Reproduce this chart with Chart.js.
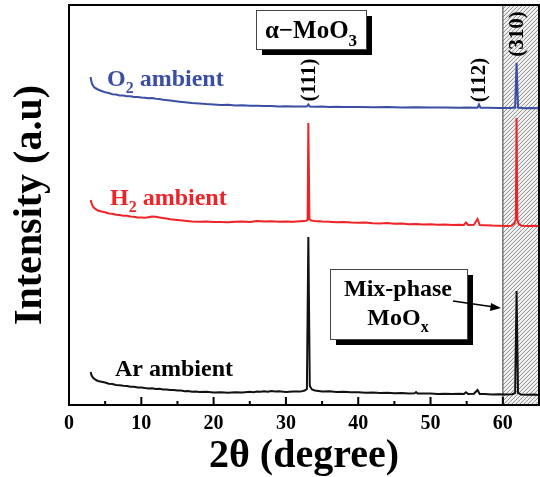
<!DOCTYPE html>
<html>
<head>
<meta charset="utf-8">
<script src="https://cdn.jsdelivr.net/npm/chart.js@4.4.0/dist/chart.umd.min.js"></script>
<style>
    html, body { margin: 0; padding: 0; background: #ffffff; }
    #wrap { width: 540px; height: 477px; }
</style>
</head>
<body>
<div id="wrap"><canvas id="xrd-chart" width="540" height="477"></canvas></div>
<script>
// 2-theta positions and offset intensities
const arTheta  = [3.0, 3.1, 3.3, 3.6, 4.0, 4.5, 5.0, 5.5, 6.0, 6.5, 7.0, 7.5, 8.0, 8.5, 9.0, 9.5, 10.0, 10.5, 11.0, 11.5, 12.0, 12.5, 13.0, 13.5, 14.0, 14.5, 15.0, 15.5, 16.0, 16.5, 17.0, 17.5, 18.0, 19.0, 20.0, 21.0, 22.0, 23.0, 24.0, 25.0, 25.5, 26.0, 26.5, 27.0, 27.5, 28.0, 28.5, 29.0, 30.0, 31.0, 32.0, 32.6, 32.9, 33.1, 33.3, 33.6, 34.0, 34.5, 35.0, 36.0, 37.0, 38.0, 39.0, 40.0, 41.0, 42.0, 43.0, 44.0, 45.0, 46.0, 47.0, 47.8, 48.0, 48.2, 49.0, 50.0, 51.0, 52.0, 53.0, 54.0, 54.6, 54.9, 55.2, 56.0, 56.5, 56.8, 57.5, 58.5, 59.5, 60.5, 61.3, 61.7, 61.9, 62.1, 62.5, 63.5, 64.3, 65.0];
const arCounts = [33, 30, 27.5, 25.5, 24, 23.2, 22.5, 21.3, 21, 20, 19.8, 19.3, 19, 18.2, 18.3, 17.6, 17.5, 17, 16.6, 16.8, 16, 16.2, 15.4, 15.5, 15, 14.9, 14.4, 14.6, 13.8, 13.9, 13.3, 13.5, 13, 13.2, 12.6, 12.8, 12.3, 12.7, 12.5, 13.2, 12.8, 13.6, 13.2, 13.8, 13.3, 13.9, 13.4, 13.7, 13.1, 13.6, 13.4, 14.5, 16, 168, 19, 15.5, 14.5, 14, 13.5, 13.7, 13.1, 13.2, 12.7, 12.8, 12.3, 12.5, 12, 12.2, 11.7, 11.9, 11.5, 11.8, 13, 11.6, 11.4, 11.6, 11.1, 11.3, 11, 11.2, 11, 12.8, 11, 11.2, 15, 11, 10.9, 10.6, 10.7, 10.5, 10.8, 12, 114, 12, 10.5, 10.2, 10.4, 10];

const h2Theta  = [3.0, 3.1, 3.3, 3.6, 4.0, 4.5, 5.0, 5.5, 6.0, 6.5, 7.0, 7.5, 8.0, 8.5, 9.0, 9.5, 10.0, 10.5, 11.0, 11.5, 12.0, 12.5, 13.0, 13.5, 14.0, 15.0, 16.0, 17.0, 18.0, 19.0, 20.0, 21.0, 22.0, 23.0, 24.0, 25.0, 26.0, 27.0, 28.0, 29.0, 30.0, 31.0, 32.0, 32.8, 33.0, 33.1, 33.25, 33.5, 34.0, 35.0, 36.0, 37.0, 38.0, 39.0, 40.0, 41.0, 42.0, 43.0, 44.0, 45.0, 46.0, 47.0, 48.0, 49.0, 50.0, 51.0, 52.0, 53.0, 54.0, 54.6, 54.9, 55.2, 56.0, 56.5, 56.8, 57.5, 58.5, 59.5, 60.5, 61.2, 61.6, 61.8, 61.9, 62.0, 62.2, 62.6, 63.5, 64.3, 65.0];
const h2Counts = [205, 202, 198.5, 196.3, 194.5, 193.5, 192.8, 191.5, 191.2, 190.2, 190, 189.2, 189.3, 188.5, 188.2, 187.6, 187.5, 187.2, 187.8, 188.4, 188.2, 187.6, 187, 186.5, 185.8, 185, 184.2, 183.5, 183.2, 183.4, 182.9, 183.1, 182.8, 183.2, 183.4, 183.1, 184, 183.4, 183.8, 183.3, 183.6, 183.3, 183.8, 184.3, 185, 282, 186, 184.5, 184, 183.4, 183.2, 182.7, 183, 182.5, 182.3, 182.5, 181.8, 181.6, 181.9, 181.2, 181.4, 180.8, 181, 180.5, 180.7, 180.2, 180.4, 180, 180.3, 180, 182.5, 180, 180.2, 186, 180, 179.8, 179.4, 179.2, 179, 179.3, 181.5, 186, 287, 186, 181, 179.3, 179, 179.2, 179];

const o2Theta  = [3.0, 3.05, 3.2, 3.5, 4.0, 4.5, 5.0, 5.5, 6.0, 6.5, 7.0, 7.5, 8.0, 8.5, 9.0, 9.5, 10.0, 10.5, 11.0, 11.5, 12.0, 12.5, 13.0, 14.0, 15.0, 16.0, 17.0, 18.0, 19.0, 20.0, 21.0, 22.0, 23.0, 24.0, 25.0, 26.0, 27.0, 28.0, 29.0, 30.0, 31.0, 32.0, 32.9, 33.1, 33.3, 34.0, 35.0, 36.0, 37.0, 38.0, 40.0, 42.0, 44.0, 46.0, 48.0, 50.0, 52.0, 54.0, 55.0, 56.5, 56.7, 56.9, 58.0, 59.5, 61.0, 61.7, 61.9, 62.1, 63.0, 64.0, 65.0];
const o2Counts = [328, 325, 321, 317.5, 315.5, 314, 312.8, 312, 310.8, 310.5, 309.6, 309.5, 308.8, 308.7, 308, 308.1, 307.4, 307.2, 306.8, 306.9, 306.2, 306, 305.2, 304.5, 303.6, 302.8, 301.9, 301.4, 300.9, 300.6, 300.1, 300.2, 299.6, 299.7, 299.2, 299.3, 298.9, 299.1, 298.6, 298.8, 298.4, 298.6, 298.5, 300.5, 298.5, 298.2, 298.4, 298, 298.2, 297.9, 298.1, 297.7, 297.9, 297.5, 297.7, 297.4, 297.6, 297.3, 297.5, 297.3, 300.5, 297.3, 297.2, 297, 297.1, 297.5, 342.3, 297.5, 296.8, 297, 296.7];

const xTickValues = [0, 10, 20, 30, 40, 50, 60];

const serif = "'Liberation Serif', 'Times New Roman', serif";
const blue = "#3a4ea3";
const red = "#ee2328";

function toPoints(xs, ys) {
    return xs.map((x, i) => ({ x: x, y: ys[i] }));
}

// draws text with subscript pieces, left aligned at x
function drawRich(ctx, parts, x, y, size) {
    let cx = x;
    parts.forEach(p => {
        if (p.sub) {
            ctx.font = `bold ${Math.round(size * 0.68)}px ${serif}`;
            ctx.fillText(p.t, cx, y + size * 0.3);
        } else {
            ctx.font = `bold ${size}px ${serif}`;
            ctx.fillText(p.t, cx, y);
        }
        cx += ctx.measureText(p.t).width;
    });
    return cx - x;
}

function richWidth(ctx, parts, size) {
    let w = 0;
    parts.forEach(p => {
        ctx.font = p.sub ? `bold ${Math.round(size * 0.68)}px ${serif}` : `bold ${size}px ${serif}`;
        w += ctx.measureText(p.t).width;
    });
    return w;
}

function shadowBox(ctx, x, y, w, h) {
    ctx.fillStyle = "#000";
    ctx.fillRect(x + 6, y + 6, w, h);
    ctx.fillStyle = "#fff";
    ctx.fillRect(x, y, w, h);
    ctx.strokeStyle = "#444";
    ctx.lineWidth = 1;
    ctx.strokeRect(x + 0.5, y + 0.5, w, h);
}

// hatched window from 60 degrees up, plus frame and inward ticks
const framePlugin = {
    id: "frame",
    beforeDatasetsDraw(chart) {
        const { ctx, chartArea, scales } = chart;
        const x0 = scales.x.getPixelForValue(60);
        const x1 = chartArea.right;
        ctx.save();
        ctx.beginPath();
        ctx.rect(x0, chartArea.top, x1 - x0, chartArea.bottom - chartArea.top);
        ctx.clip();
        ctx.fillStyle = "#f4f4f4";
        ctx.fillRect(x0, chartArea.top, x1 - x0, chartArea.bottom - chartArea.top);
        ctx.strokeStyle = "#7a7a7a";
        ctx.lineWidth = 0.9;
        const h = chartArea.bottom - chartArea.top;
        for (let s = x0 - h; s < x1 + 10; s += 4) {
            ctx.beginPath();
            ctx.moveTo(s, chartArea.bottom);
            ctx.lineTo(s + h, chartArea.top);
            ctx.stroke();
        }
        ctx.restore();
        ctx.save();
        ctx.strokeStyle = "#555";
        ctx.lineWidth = 1.2;
        ctx.beginPath();
        ctx.moveTo(x0, chartArea.top);
        ctx.lineTo(x0, chartArea.bottom);
        ctx.stroke();
        ctx.restore();
    },
    afterDatasetsDraw(chart) {
        const { ctx, chartArea, scales } = chart;
        ctx.save();
        ctx.strokeStyle = "#000";
        ctx.lineWidth = 2;
        ctx.strokeRect(chartArea.left, chartArea.top, chartArea.right - chartArea.left, chartArea.bottom - chartArea.top);
        scales.x.ticks.forEach(t => {
            if (t.value <= 0 || t.value >= 65) return;
            const px = scales.x.getPixelForValue(t.value);
            const len = t.value % 10 === 0 ? 8 : 4;
            ctx.beginPath();
            ctx.moveTo(px, chartArea.bottom);
            ctx.lineTo(px, chartArea.bottom - len);
            ctx.stroke();
        });
        ctx.restore();
    },
    afterDraw(chart) {
        const { ctx, scales } = chart;
        ctx.save();
        ctx.textBaseline = "alphabetic";
        ctx.textAlign = "left";

        // alpha-MoO3 box
        shadowBox(ctx, 256, 10, 110, 39);
        ctx.fillStyle = "#000";
        const aParts = [{ t: "\u03b1\u2212MoO" }, { t: "3", sub: true }];
        let w = richWidth(ctx, aParts, 25);
        drawRich(ctx, aParts, 311 - w / 2, 38, 25);

        // Mix-phase MoOx box
        shadowBox(ctx, 330, 269, 137, 70);
        ctx.fillStyle = "#000";
        const m1 = [{ t: "Mix-phase" }];
        w = richWidth(ctx, m1, 24);
        drawRich(ctx, m1, 398 - w / 2, 296, 24);
        const m2 = [{ t: "MoO" }, { t: "x", sub: true }];
        w = richWidth(ctx, m2, 24);
        drawRich(ctx, m2, 398 - w / 2, 325, 24);

        // arrow to the hatched window
        ctx.strokeStyle = "#000";
        ctx.lineWidth = 1.5;
        ctx.beginPath();
        ctx.moveTo(453, 301);
        ctx.lineTo(494, 307);
        ctx.stroke();
        ctx.beginPath();
        ctx.moveTo(501, 308);
        ctx.lineTo(491, 303);
        ctx.lineTo(490, 311);
        ctx.closePath();
        ctx.fill();

        // series labels
        ctx.fillStyle = blue;
        drawRich(ctx, [{ t: "O" }, { t: "2", sub: true }, { t: " ambient" }], 107, 86, 24);
        ctx.fillStyle = red;
        drawRich(ctx, [{ t: "H" }, { t: "2", sub: true }, { t: " ambient" }], 110, 205, 24);
        ctx.fillStyle = "#000";
        drawRich(ctx, [{ t: "Ar ambient" }], 115, 376, 24);

        // rotated plane labels
        const planes = [["(111)", 33.1, 80], ["(112)", 56.7, 80], ["(310)", 61.9, 34]];
        ctx.font = `bold 21px ${serif}`;
        ctx.textAlign = "center";
        ctx.textBaseline = "middle";
        planes.forEach(([txt, th, cy]) => {
            ctx.save();
            ctx.translate(scales.x.getPixelForValue(th), cy);
            ctx.rotate(-Math.PI / 2);
            ctx.fillText(txt, 0, 1);
            ctx.restore();
        });
        ctx.restore();
    }
};

const ctx = document.getElementById("xrd-chart").getContext("2d");

new Chart(ctx, {
    type: "line",
    data: {
        datasets: [
            { label: "Ar ambient", data: toPoints(arTheta, arCounts), borderColor: "#111", borderWidth: 2 },
            { label: "H2 ambient", data: toPoints(h2Theta, h2Counts), borderColor: red, borderWidth: 2 },
            { label: "O2 ambient", data: toPoints(o2Theta, o2Counts), borderColor: blue, borderWidth: 2 },
        ],
    },
    options: {
        responsive: false,
        animation: false,
        events: [],
        elements: { point: { radius: 0 }, line: { tension: 0 } },
        layout: { padding: { top: 5, right: 1, left: 0, bottom: 0 } },
        plugins: {
            legend: { display: false },
            tooltip: { enabled: false },
        },
        scales: {
            x: {
                type: "linear",
                min: 0,
                max: 65,
                grid: { display: false, drawTicks: false },
                border: { display: false },
                afterFit: scale => {
                    scale.height = 72;
                    scale.paddingRight = 1;
                },
                ticks: {
                    stepSize: 5,
                    padding: 7,
                    color: "#000",
                    font: { family: serif, size: 20, weight: "bold" },
                    maxRotation: 0,
                    callback: value => xTickValues.includes(value) ? String(value) : "",
                },
                title: {
                    display: true,
                    text: "2\u03b8 (degree)",
                    color: "#000",
                    font: { family: serif, size: 40, weight: "bold", lineHeight: 1 },
                    padding: { top: 1, bottom: 0 },
                },
            },
            y: {
                min: 0,
                max: 400,
                grid: { display: false, drawTicks: false },
                border: { display: false },
                afterFit: scale => { scale.width = 69; },
                ticks: { display: false },
                title: {
                    display: true,
                    text: "Intensity (a.u)",
                    color: "#000",
                    font: { family: serif, size: 40, weight: "bold", lineHeight: 1 },
                    padding: { top: 11, bottom: 18 },
                },
            },
        },
    },
    plugins: [framePlugin],
});
</script>
</body>
</html>
